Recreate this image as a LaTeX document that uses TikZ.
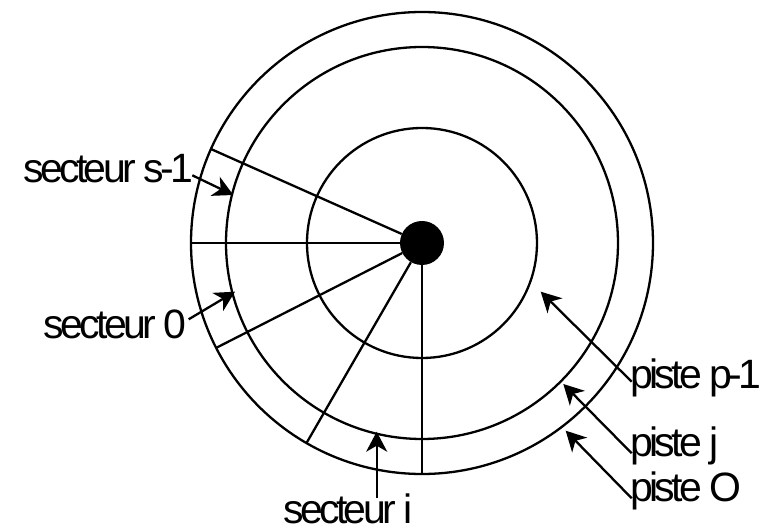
\documentclass[tikz,border=0pt]{standalone}
\usepackage{fontspec}
\setmainfont{Liberation Sans}
\newfontfamily\tagfont[LetterSpace=-9]{Liberation Sans}
\usepackage{tikz}
\usetikzlibrary{arrows.meta, calc}
\definecolor{diskInk}{HTML}{000000}
\tikzset{
  disk/.style={draw=diskInk, line width=2.3pt},
  tag/.style={font=\tagfont\fontsize{41}{43}\selectfont, text=diskInk, inner sep=0pt},
  pointer/.style={draw=diskInk, line width=2.3pt,
    -{Stealth[length=20pt, width=21pt, inset=6pt]}}
}
\newcommand{\sectorline}[1]{%
  \draw[disk] (hub) -- (#1:231);}

\begin{document}
\begin{tikzpicture}[x=1pt, y=1pt]
    \useasboundingbox (-422,-289) rectangle (347,243);
    % ---- tracks ----
    \foreach \r in {115,196,231}
      \draw[disk] (0,0) circle (\r);
    % ---- hub and sectors ----
    \node[circle, fill=diskInk, minimum size=44pt, inner sep=0pt] (hub) at (0,0) {};
    \foreach \a in {156,180,207,240,270}
      \sectorline{\a}
    % ---- arrow tips ----
    \coordinate (tipS) at (-188.7,48);
    \coordinate (tipZ) at (-187,-48.7);
    \coordinate (tipI) at (-45.3,-188.7);
    \coordinate (tipP) at (118.7,-48.7);
    \coordinate (tipJ) at (141.3,-141);
    \coordinate (tipO) at (143.7,-187.7);
    % ---- labels ----
    \node[tag, anchor=base east] (secS) at (-228.7,60.7) {secteur s-1};
    \node[tag, anchor=base east] (secZ) at (-235.3,-95.3) {secteur 0};
    \node[tag, anchor=base west] (secI) at (-138.7,-281) {secteur i};
    \node[tag, anchor=base west] (pisteP) at (208,-145.3) {piste p-1};
    \node[tag, anchor=base west] (pisteJ) at (208,-213.7) {piste j};
    \node[tag, anchor=base west] (pisteO) at (208,-258.7) {piste O};
    % ---- pointers ----
    \draw[pointer] ($(secS.base east)+(-1,7)$) -- (tipS);
    \draw[pointer] ($(secZ.base east)+(2,19)$) -- (tipZ);
    \draw[pointer] ($(secI.base west)+(93.4,26)$) -- (tipI);
    \draw[pointer] ($(pisteP.base west)+(1.7,6.6)$) -- (tipP);
    \draw[pointer] ($(pisteJ.base west)+(1.7,3.4)$) -- (tipJ);
    \draw[pointer] ($(pisteO.base west)+(1.7,3.4)$) -- (tipO);
  \end{tikzpicture}
\end{document}
